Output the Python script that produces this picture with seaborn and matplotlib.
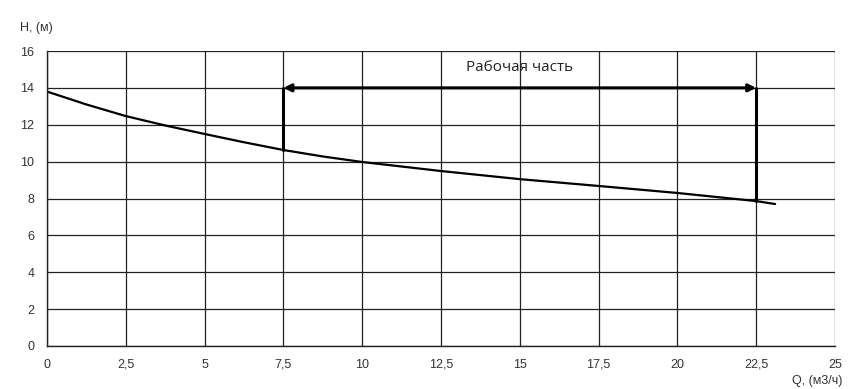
import matplotlib
matplotlib.use("Agg")
import matplotlib.pyplot as plt
import seaborn as sns
import numpy as np
import pandas as pd

q_values = [0, 1.25, 2.5, 3.75, 5, 6.25, 7.5, 8.75, 10, 12.5, 15, 17.5, 20, 22.5, 23.1]
h_values = [13.8, 13.1, 12.47, 11.96, 11.5, 11.05, 10.63, 10.28, 9.98, 9.49, 9.05, 8.68, 8.3, 7.86, 7.7]
x_ticks = [0, 2.5, 5, 7.5, 10, 12.5, 15, 17.5, 20, 22.5, 25]
x_tick_labels = ["0", "2,5", "5", "7,5", "10", "12,5", "15", "17,5", "20", "22,5", "25"]
y_ticks = [0, 2, 4, 6, 8, 10, 12, 14, 16]
work_start = 7.5
work_end = 22.5
work_start_h = 10.63
work_end_h = 7.86
arrow_h = 14
label_text = "Рабочая часть"

sns.set_style("white")
plt.rcParams['font.family'] = ['Liberation Sans', 'DejaVu Sans']

fig = plt.figure(figsize=(8.56, 3.89), dpi=100)
ax = fig.add_axes([47/856, 1-346/389, (835-47)/856, (346-51)/389])

df = pd.DataFrame({"Q": q_values, "H": h_values})
sns.lineplot(data=df, x="Q", y="H", ax=ax, color="black", linewidth=1.6)

ax.set_xlim(0, 25)
ax.set_ylim(0, 16)
ax.set_xticks(x_ticks)
ax.set_xticklabels(x_tick_labels)
ax.set_yticks(y_ticks)
ax.grid(True, color="#222222", linewidth=0.9)
ax.set_axisbelow(True)
for s in ["top", "right"]:
    ax.spines[s].set_visible(False)
for s in ["left", "bottom"]:
    ax.spines[s].set_color("#222222")
    ax.spines[s].set_linewidth(1.0)
ax.tick_params(axis="both", which="both", direction="out", length=3, width=1,
               color="#222222", labelsize=9, labelcolor="#333333", pad=6)
ax.tick_params(axis="x", pad=6)
ax.set_xlabel("")
ax.set_ylabel("")

ax.plot([work_start, work_start], [work_start_h, arrow_h], color="black", linewidth=2.2)
ax.plot([work_end, work_end], [work_end_h, arrow_h], color="black", linewidth=2.2)
ax.annotate("", xy=(work_start, arrow_h), xytext=(work_end, arrow_h),
            arrowprops=dict(arrowstyle="<|-|>", color="black", lw=2.2,
                            mutation_scale=11, shrinkA=0, shrinkB=0))
ax.text((work_start + work_end) / 2, 15.1, label_text, ha="center", va="center",
        fontsize=11, color="#222222", family=["Open Sans", "DejaVu Sans"])

fig.text(20/856, 1-28/389, "H, (м)", ha="left", va="center", fontsize=9, color="#333333")
fig.text(842/856, 1-381/389, "Q, (м3/ч)", ha="right", va="center", fontsize=9, color="#333333")

fig.savefig("out.png", dpi=100, facecolor="white")
